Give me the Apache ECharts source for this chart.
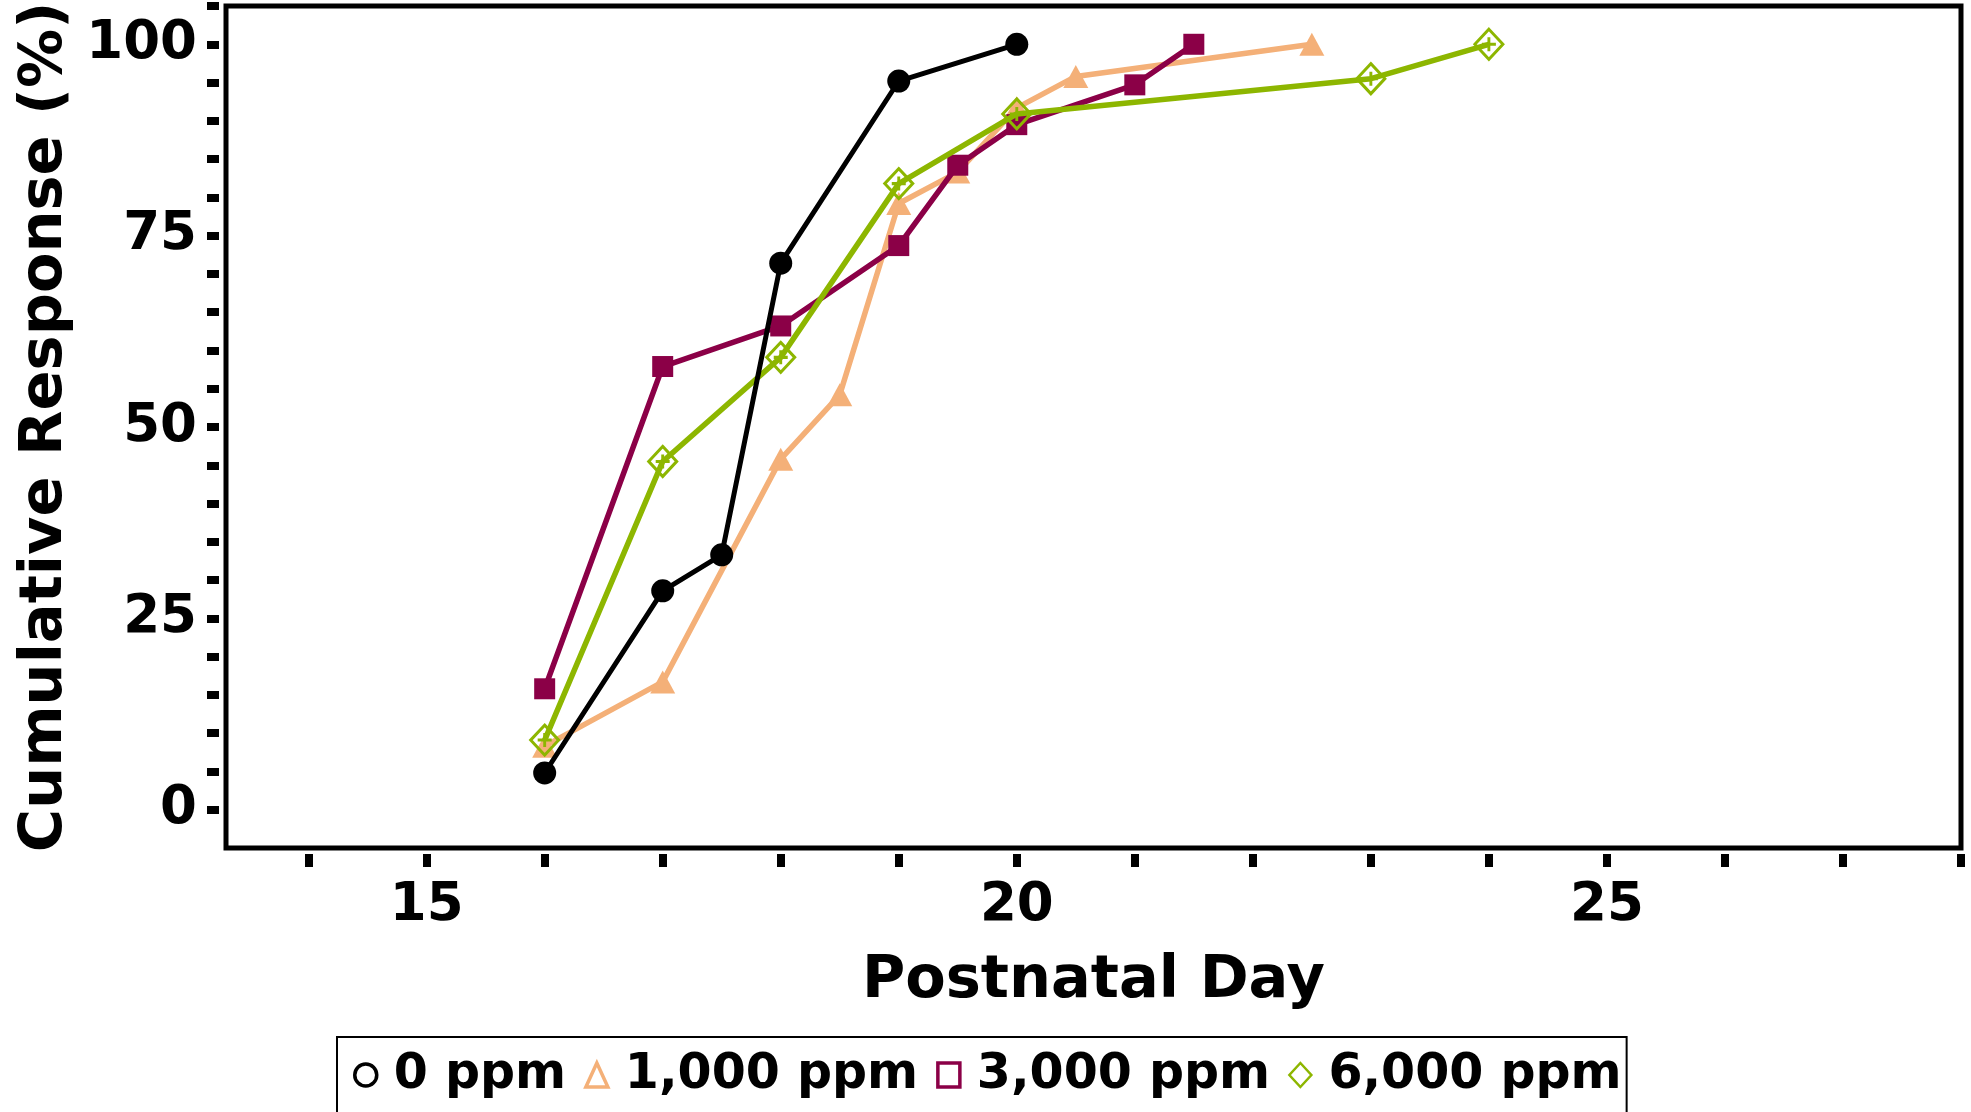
<!DOCTYPE html>
<html>
<head>
<meta charset="utf-8">
<script src="https://cdn.jsdelivr.net/npm/echarts@6/dist/echarts.min.js"></script>
<style>
html,body{margin:0;padding:0;background:#fff;}
#chart{width:1971px;height:1112px;}
</style>
</head>
<body>
<div id="chart"></div>
<script>
// ---- data ----
const seriesNames = ['0 ppm', '1,000 ppm', '3,000 ppm', '6,000 ppm'];
const days0    = [16, 17, 17.5, 18, 19, 20];
const resp0    = [4.8, 28.6, 33.3, 71.4, 95.2, 100];
const days1000 = [16, 17, 18, 18.5, 19, 19.5, 20, 20.5, 22.5];
const resp1000 = [8.3, 16.7, 45.8, 54.2, 79.2, 83.3, 91.7, 95.8, 100];
const days3000 = [16, 17, 18, 19, 19.5, 20, 21, 21.5];
const resp3000 = [15.8, 57.9, 63.2, 73.7, 84.2, 89.5, 94.7, 100];
const days6000 = [16, 17, 18, 19, 20, 23, 24];
const resp6000 = [9.1, 45.5, 59.1, 81.8, 90.9, 95.5, 100];
const xTickValues  = [14, 15, 16, 17, 18, 19, 20, 21, 22, 23, 24, 25, 26, 27, 28];
const xLabelValues = [15, 20, 25];
const yTickValues  = [0, 5, 10, 15, 20, 25, 30, 35, 40, 45, 50, 55, 60, 65, 70, 75, 80, 85, 90, 95, 100, 105];
const yLabelValues = [0, 25, 50, 75, 100];

const colors = ['#000000', '#F4B078', '#8B0047', '#8DB600'];
const FONT = 'DejaVu Sans';

function pairs(xs, ys) { return xs.map((x, i) => [x, ys[i]]); }

const diamondPlus = 'path://M0,-15 L14,0 L0,15 L-14,0 Z M-7,0 L7,0 M0,-7 L0,7';

const chart = echarts.init(document.getElementById('chart'), null, {renderer: 'canvas'});
chart.setOption({
  animation: false,
  backgroundColor: '#ffffff',
  grid: {
    left: 226, right: 10, top: 6, bottom: 264,
    show: true, borderColor: '#000', borderWidth: 5, backgroundColor: 'transparent',
    outerBoundsMode: 'none'
  },
  xAxis: {
    type: 'value', min: 13.3, max: 28,
    offset: 6,
    axisLine: {show: false, onZero: false},
    splitLine: {show: false},
    axisTick: {show: true, length: 13, customValues: xTickValues, lineStyle: {color: '#000', width: 8}},
    axisLabel: {customValues: xLabelValues, margin: 26, color: '#000', fontFamily: FONT, fontWeight: 'bold', fontSize: 53},
    name: 'Postnatal Day', nameLocation: 'middle', nameGap: 98,
    nameTextStyle: {color: '#000', fontFamily: FONT, fontWeight: 'bold', fontSize: 59}
  },
  yAxis: {
    type: 'value', min: -5, max: 105,
    offset: 7,
    axisLine: {show: false, onZero: false},
    splitLine: {show: false},
    axisTick: {show: true, length: 12, customValues: yTickValues, lineStyle: {color: '#000', width: 8}},
    axisLabel: {customValues: yLabelValues, margin: 22, color: '#000', fontFamily: FONT, fontWeight: 'bold', fontSize: 53},
    name: 'Cumulative Response (%)', nameLocation: 'middle', nameGap: 143, nameRotate: 90,
    nameTextStyle: {color: '#000', fontFamily: FONT, fontWeight: 'bold', fontSize: 59}
  },
  legend: {
    left: 337, top: 1037,
    orient: 'horizontal',
    padding: [10, 5, 40, 16],
    borderColor: '#000', borderWidth: 2, borderRadius: 0,
    itemWidth: 22, itemHeight: 24, itemGap: 18,
    symbolKeepAspect: true,
    textStyle: {color: '#000', fontFamily: FONT, fontWeight: 'bold', fontSize: 49, lineHeight: 56, padding: [0, 0, 0, 12]},
    data: [
      {name: seriesNames[0], icon: 'circle', itemStyle: {color: 'rgba(0,0,0,0)', borderColor: colors[0], borderWidth: 3.5}},
      {name: seriesNames[1], icon: 'triangle', itemStyle: {color: 'rgba(0,0,0,0)', borderColor: colors[1], borderWidth: 3.5}},
      {name: seriesNames[2], icon: 'rect', itemStyle: {color: 'rgba(0,0,0,0)', borderColor: colors[2], borderWidth: 3.5}},
      {name: seriesNames[3], icon: 'diamond', itemStyle: {color: 'rgba(0,0,0,0)', borderColor: colors[3], borderWidth: 2.5}}
    ]
  },
  series: [
    {
      name: seriesNames[0], type: 'line', z: 6,
      data: pairs(days0, resp0),
      symbol: 'circle', symbolSize: 23,
      lineStyle: {color: colors[0], width: 5},
      itemStyle: {color: colors[0]}
    },
    {
      name: seriesNames[1], type: 'line', z: 3,
      data: pairs(days1000, resp1000),
      symbol: 'triangle', symbolSize: [25, 23],
      lineStyle: {color: colors[1], width: 5.5},
      itemStyle: {color: colors[1]}
    },
    {
      name: seriesNames[2], type: 'line', z: 4,
      data: pairs(days3000, resp3000),
      symbol: 'rect', symbolSize: 21,
      lineStyle: {color: colors[2], width: 5.5},
      itemStyle: {color: colors[2]}
    },
    {
      name: seriesNames[3], type: 'line', z: 5,
      data: pairs(days6000, resp6000),
      symbol: diamondPlus, symbolSize: [28, 30],
      lineStyle: {color: colors[3], width: 5.5},
      itemStyle: {color: 'rgba(0,0,0,0)', borderColor: colors[3], borderWidth: 3}
    }
  ]
});
</script>
</body>
</html>
